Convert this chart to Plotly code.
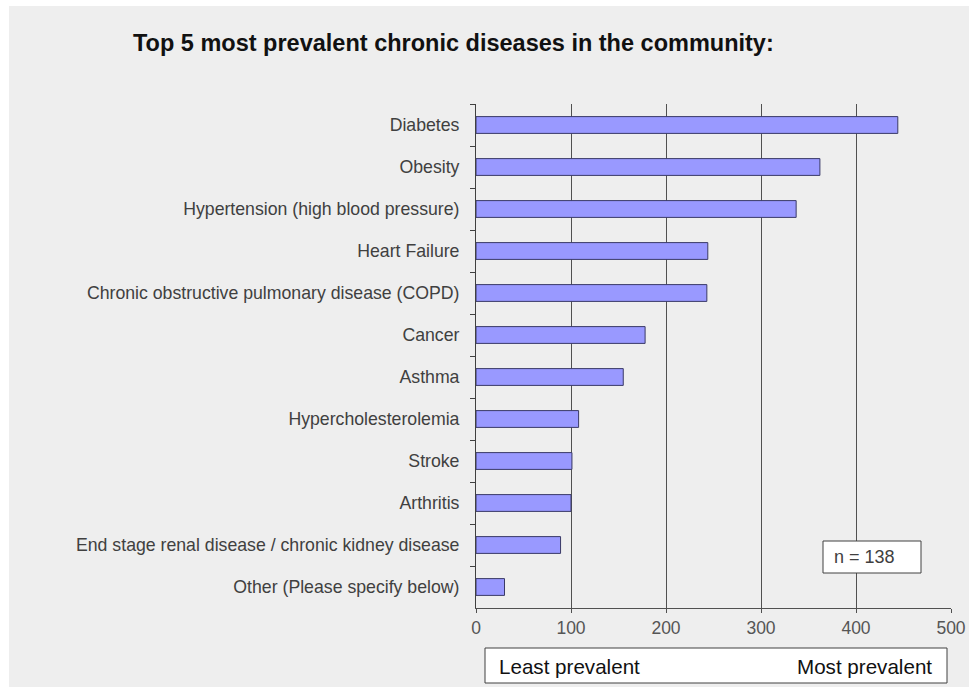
import plotly.graph_objects as go

# Survey responses: number of mentions per chronic disease
diseases = [
    "Diabetes",
    "Obesity",
    "Hypertension (high blood pressure)",
    "Heart Failure",
    "Chronic obstructive pulmonary disease (COPD)",
    "Cancer",
    "Asthma",
    "Hypercholesterolemia",
    "Stroke",
    "Arthritis",
    "End stage renal disease / chronic kidney disease",
    "Other (Please specify below)",
]
mentions = [444, 362, 337, 244, 243, 178, 155, 108, 101, 100, 89, 30]

x_ticks = [0, 100, 200, 300, 400, 500]
sample_note = "n = 138"
scale_left = "Least prevalent"
scale_right = "Most prevalent"
title_text = "Top 5 most prevalent chronic diseases in the community:"

W, H = 969, 687
L, R, T, B = 476, 18, 104, 79
pw, ph = W - L - R, H - T - B


def px_x(px):
    return (px - L) / pw


def px_y(py):
    return (H - B - py) / ph


FONT = "Liberation Sans, Arial, sans-serif"

fig = go.Figure(
    go.Bar(
        x=mentions,
        y=diseases,
        orientation="h",
        width=0.4,
        marker=dict(color="#9999ff", line=dict(color="#3a3a66", width=1)),
        hoverinfo="x+y",
    )
)

fig.update_layout(
    width=W,
    height=H,
    margin=dict(l=L, r=R, t=T, b=B, pad=0, autoexpand=False),
    paper_bgcolor="white",
    plot_bgcolor="rgba(0,0,0,0)",
    showlegend=False,
    font=dict(family=FONT, size=17, color="#404040"),
    xaxis=dict(
        range=[0, 500],
        tickvals=x_ticks,
        ticktext=[str(v) for v in x_ticks],
        automargin=False,
        showgrid=True,
        gridcolor="#505050",
        gridwidth=1,
        zeroline=False,
        showline=True,
        linecolor="#505050",
        linewidth=1,
        ticks="outside",
        ticklen=4,
        tickcolor="#505050",
        tickfont=dict(size=17.5, color="#555555"),
        fixedrange=True,
    ),
    yaxis=dict(
        categoryorder="array",
        categoryarray=diseases,
        autorange="reversed",
        automargin=False,
        showgrid=False,
        zeroline=False,
        showline=True,
        linecolor="#404040",
        linewidth=1,
        ticks="outside",
        tickson="boundaries",
        ticklen=5,
        tickcolor="#404040",
        ticklabelstandoff=12,
        tickfont=dict(size=17.7, color="#404040"),
        fixedrange=True,
    ),
    shapes=[
        # grey panel behind everything
        dict(
            type="rect", xref="paper", yref="paper", layer="below",
            x0=px_x(9), x1=px_x(969), y0=px_y(687), y1=px_y(6),
            fillcolor="#eeeeee", line=dict(width=0),
        ),
        # sample-size box
        dict(
            type="rect", xref="paper", yref="paper", layer="above",
            x0=px_x(823), x1=px_x(921), y0=px_y(573), y1=px_y(541),
            fillcolor="white", line=dict(color="#404040", width=1),
        ),
        # prevalence scale box
        dict(
            type="rect", xref="paper", yref="paper", layer="above",
            x0=px_x(485), x1=px_x(947), y0=px_y(683), y1=px_y(648),
            fillcolor="white", line=dict(color="#404040", width=1),
        ),
    ],
    annotations=[
        dict(
            text=f"<b>{title_text}</b>", xref="paper", yref="paper",
            x=px_x(131), y=px_y(43), xanchor="left", yanchor="middle",
            showarrow=False, font=dict(family=FONT, size=23.5, color="#111111"),
        ),
        dict(
            text=sample_note, xref="paper", yref="paper",
            x=px_x(832), y=px_y(557), xanchor="left", yanchor="middle",
            showarrow=False, font=dict(family=FONT, size=18, color="#404040"),
        ),
        dict(
            text=scale_left, xref="paper", yref="paper",
            x=px_x(497), y=px_y(666), xanchor="left", yanchor="middle",
            showarrow=False, font=dict(family=FONT, size=20.6, color="#111111"),
        ),
        dict(
            text=scale_right, xref="paper", yref="paper",
            x=px_x(934), y=px_y(666), xanchor="right", yanchor="middle",
            showarrow=False, font=dict(family=FONT, size=20.6, color="#111111"),
        ),
    ],
)

fig.write_html("out.html")
